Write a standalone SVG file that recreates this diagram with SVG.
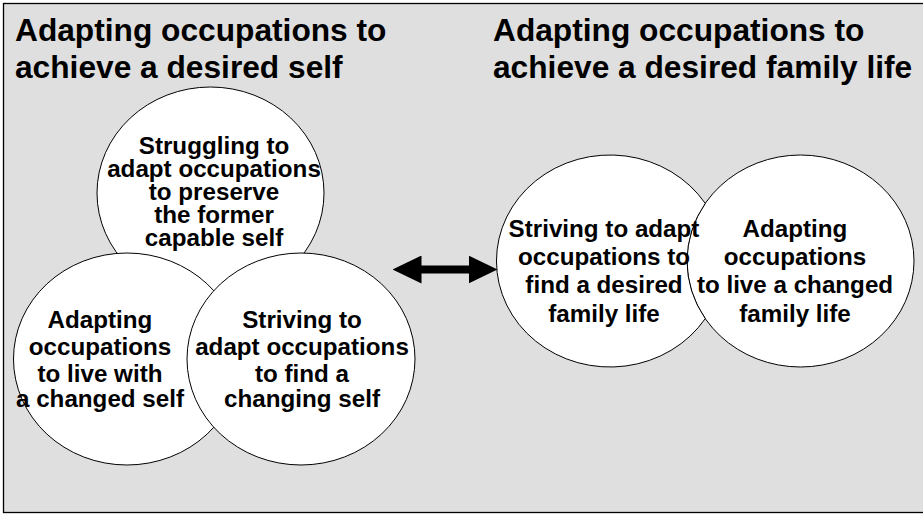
<svg xmlns="http://www.w3.org/2000/svg" width="923" height="514" viewBox="0 0 923 514">
<defs>
<style>
.bg{fill:#dfdfdf;stroke:#000;stroke-width:1.3}
.shape{fill:#fff;stroke:#000;stroke-width:1}
.title{font-family:"Liberation Sans",Arial,Helvetica,sans-serif;font-weight:bold;font-size:31.7px;fill:#000}
.lbl{font-family:"Liberation Sans",Arial,Helvetica,sans-serif;font-weight:bold;font-size:24.2px;fill:#000;text-anchor:middle}
.conn{stroke:#000;stroke-width:8;fill:none}
</style>
<marker id="head" markerUnits="userSpaceOnUse" viewBox="0 0 29 28" markerWidth="29" markerHeight="28" refX="0.5" refY="14" orient="auto-start-reverse"><path d="M0,0 L29,14 L0,28 Z" fill="#000"/></marker>
</defs>
<rect class="bg" x="3.5" y="3.5" width="940" height="509"/>
<g id="titles">
<text class="title" x="15" y="41">Adapting occupations to</text>
<text class="title" x="15" y="77.5">achieve a desired self</text>
<text class="title" x="493" y="41">Adapting occupations to</text>
<text class="title" x="493" y="77.5">achieve a desired family life</text>
</g>
<g id="node-struggling">
<ellipse class="shape" cx="210.5" cy="193" rx="113.5" ry="106"/>
<text class="lbl"><tspan x="214" y="153.5">Struggling to</tspan><tspan x="214" y="176.5">adapt occupations</tspan><tspan x="214" y="199.5">to preserve</tspan><tspan x="214" y="222.5">the former</tspan><tspan x="214" y="245.7">capable self</tspan></text>
</g>
<g id="node-adapting-self">
<ellipse class="shape" cx="127" cy="359" rx="113.5" ry="106"/>
<text class="lbl"><tspan x="100" y="328.3">Adapting</tspan><tspan x="100" y="355">occupations</tspan><tspan x="100" y="381.7">to live with</tspan><tspan x="100" y="407.3">a changed self</tspan></text>
</g>
<g id="node-striving-self">
<ellipse class="shape" cx="301" cy="359" rx="114" ry="106"/>
<text class="lbl"><tspan x="302" y="328.3">Striving to</tspan><tspan x="302" y="355">adapt occupations</tspan><tspan x="302" y="381.7">to find a</tspan><tspan x="302" y="407.3">changing self</tspan></text>
</g>
<g id="node-adapting-family">
<ellipse class="shape" cx="800.5" cy="261" rx="113.5" ry="106"/>
<text class="lbl"><tspan x="795" y="236.7">Adapting</tspan><tspan x="795" y="265">occupations</tspan><tspan x="795" y="293.3">to live a changed</tspan><tspan x="795" y="321.7">family life</tspan></text>
</g>
<g id="node-striving-family">
<path class="shape" d="M705.25,203.4 A113.5,106 0 1 0 705.25,318.6 A113.5,106 0 0 1 705.25,203.4 Z"/>
<text class="lbl"><tspan x="604" y="236.7">Striving to adapt</tspan><tspan x="604" y="265">occupations to</tspan><tspan x="604" y="293.3">find a desired</tspan><tspan x="604" y="321.7">family life</tspan></text>
</g>
<g id="connectors">
<line class="conn" x1="421" y1="269.5" x2="469" y2="269.5" marker-start="url(#head)" marker-end="url(#head)"/>
</g>
</svg>
